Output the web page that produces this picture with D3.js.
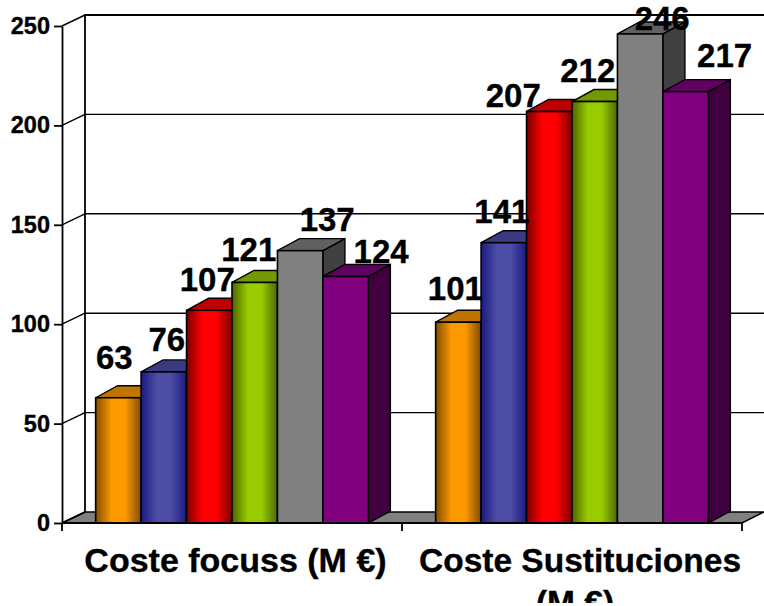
<!DOCTYPE html>
<html>
<head>
<meta charset="utf-8">
<script src="https://cdn.jsdelivr.net/npm/d3@7"></script>
<style>
html,body{margin:0;padding:0;background:#fff;overflow:hidden}
svg{display:block}
text{font-family:"Liberation Sans",Arial,sans-serif;font-weight:bold;fill:#000;stroke:#000;stroke-width:.35px}
</style>
</head>
<body>
<div id="chart"></div>
<script>
const categories = ["Coste focuss (M €)", "Coste Sustituciones (M €)"];
const seriesNames = ["s1", "s2", "s3", "s4", "s5", "s6"];
const valuesFocuss = [63, 76, 107, 121, 137, 124];
const valuesSustituciones = [101, 141, 207, 212, 246, 217];
const tickValues = [0, 50, 100, 150, 200, 250];
const frontColors = ["#FF9900", "#4D4DA6", "#FF0000", "#99CC00", "#808080", "#800080"];
const edgeColors = ["#804D00", "#1A1A80", "#7A0000", "#4D6600", "#808080", "#800080"];
const topColors = ["#BF7300", "#3A3A80", "#BF0000", "#739900", "#606060", "#600060"];
const sideColors = ["#804D00", "#26264D", "#800000", "#4D6600", "#404040", "#400040"];
// manual data-label placement, as in the source chart (px from the bar's front-top centre)
const labelDx = [[-4, 3, -2, -6, 27, 35.5], [-3, -2, -36, -7, 22, 39]];
const labelDy = [[-29, -21, -19, -21, -20, -13], [-22, -20, -4, -20, -4, -25]];
const categoryLineDx = [[3.5], [8, 3]];
const categoryFontSizes = [34, 33.5];

const width = 764, height = 606;
const plot = {left: 62, right: 742, base: 523, top: 26};
const depth = {wall: [23, -11], bar: [22, -12]};
const wallRight = 764;

const svg = d3.select("#chart").append("svg").attr("width", width).attr("height", height);
const defs = svg.append("defs");
frontColors.forEach((c, i) => {
  const g = defs.append("linearGradient").attr("id", "grad" + i);
  g.append("stop").attr("offset", "0%").attr("stop-color", edgeColors[i]);
  g.append("stop").attr("offset", "35%").attr("stop-color", c);
  g.append("stop").attr("offset", "65%").attr("stop-color", c);
  g.append("stop").attr("offset", "100%").attr("stop-color", edgeColors[i]);
});

const y = d3.scaleLinear().domain([0, 250]).range([plot.base, plot.top]);
const x0 = d3.scaleBand().domain(categories).range([plot.left, plot.right]).paddingInner(0).paddingOuter(0);
const x1 = d3.scaleBand().domain(seriesNames).range([0, x0.bandwidth()]).paddingOuter(0.74).paddingInner(0);
const data = [valuesFocuss, valuesSustituciones];

// gridlines and back wall
const wx = plot.left + depth.wall[0], wy = depth.wall[1];
svg.append("g").selectAll("line").data(tickValues.slice(1)).join("line")
  .attr("x1", wx).attr("x2", wallRight)
  .attr("y1", d => y(d) + wy).attr("y2", d => y(d) + wy)
  .attr("stroke", "#000").attr("stroke-width", d => d === 250 ? 2 : 1.4);
svg.append("line").attr("x1", wx).attr("x2", wx)
  .attr("y1", y(250) + wy - 1).attr("y2", y(0) + wy)
  .attr("stroke", "#000").attr("stroke-width", 1.8);

// floor
svg.append("polygon")
  .attr("points", [[plot.left, y(0)], [wx, y(0) + wy], [wallRight, y(0) + wy], [plot.right, y(0)]].join(" "))
  .attr("fill", "#808080").attr("stroke", "#000").attr("stroke-width", 1.4);

// diagonal ticks
svg.append("g").selectAll("line").data(tickValues).join("line")
  .attr("x1", plot.left).attr("x2", wx)
  .attr("y1", d => y(d)).attr("y2", d => y(d) + wy)
  .attr("stroke", "#000").attr("stroke-width", 1.4);

// bars
data.forEach((vals, ci) => {
  const g = svg.append("g").attr("transform", `translate(${x0(categories[ci])},0)`);
  vals.forEach((v, i) => {
    const l = x1(seriesNames[i]), r = l + x1.bandwidth(), t = y(v), b = y(0);
    const [dx, dy] = depth.bar;
    g.append("polygon").attr("points", [[r, t], [r + dx, t + dy], [r + dx, b + dy], [r, b]].join(" "))
      .attr("fill", sideColors[i]).attr("stroke", "#000").attr("stroke-width", 1.4);
    g.append("polygon").attr("points", [[l, t], [l + dx, t + dy], [r + dx, t + dy], [r, t]].join(" "))
      .attr("fill", topColors[i]).attr("stroke", "#000").attr("stroke-width", 1.4);
    g.append("rect").attr("x", l).attr("y", t).attr("width", x1.bandwidth()).attr("height", b - t)
      .attr("fill", `url(#grad${i})`).attr("stroke", "#000").attr("stroke-width", 1.6);
  });
});

// axes
const yAxis = svg.append("g").attr("transform", `translate(${plot.left},0)`)
  .call(d3.axisLeft(y).tickValues(tickValues).tickSize(8).tickPadding(4).tickSizeOuter(0));
yAxis.selectAll("line,path").attr("stroke", "#000").attr("stroke-width", 1.8);
yAxis.selectAll("text").style("font-size", "23.5px").style("font-family", '"Liberation Sans"').style("font-weight", "bold").attr("fill", "#000");

svg.append("line").attr("x1", plot.left).attr("x2", plot.right)
  .attr("y1", y(0)).attr("y2", y(0)).attr("stroke", "#000").attr("stroke-width", 2);
svg.append("g").selectAll("line")
  .data([plot.left, x0(categories[1]), x0(categories[1]) + x0.bandwidth()]).join("line")
  .attr("x1", d => d).attr("x2", d => d)
  .attr("y1", y(0)).attr("y2", y(0) + 8).attr("stroke", "#000").attr("stroke-width", 1.8);

// data labels
data.forEach((vals, ci) => {
  vals.forEach((v, i) => {
    svg.append("text")
      .attr("x", x0(categories[ci]) + x1(seriesNames[i]) + x1.bandwidth() / 2 + labelDx[ci][i])
      .attr("y", y(v) + labelDy[ci][i])
      .attr("text-anchor", "middle")
      .style("font-size", "33px")
      .text(v);
  });
});

// category labels, wrapped to the band width
categories.forEach((c, ci) => {
  const t = svg.append("text").attr("text-anchor", "middle").style("font-size", categoryFontSizes[ci] + "px")
    .attr("y", 572);
  const cx = x0(c) + x0.bandwidth() / 2;
  let n = 0, line = [], ts = t.append("tspan").attr("x", cx + categoryLineDx[ci][n]).attr("dy", 0);
  c.split(" ").forEach(w => {
    line.push(w);
    ts.text(line.join(" "));
    if (ts.node().getComputedTextLength() > x0.bandwidth() && line.length > 1) {
      line.pop();
      ts.text(line.join(" "));
      line = [w];
      n += 1;
      ts = t.append("tspan").attr("x", cx + categoryLineDx[ci][n]).attr("dy", 42).text(w);
    }
  });
});

// the source image ends just above the window's bottom edge
svg.append("rect").attr("x", 0).attr("y", 603).attr("width", width).attr("height", 3).attr("fill", "#fff");
</script>
</body>
</html>
